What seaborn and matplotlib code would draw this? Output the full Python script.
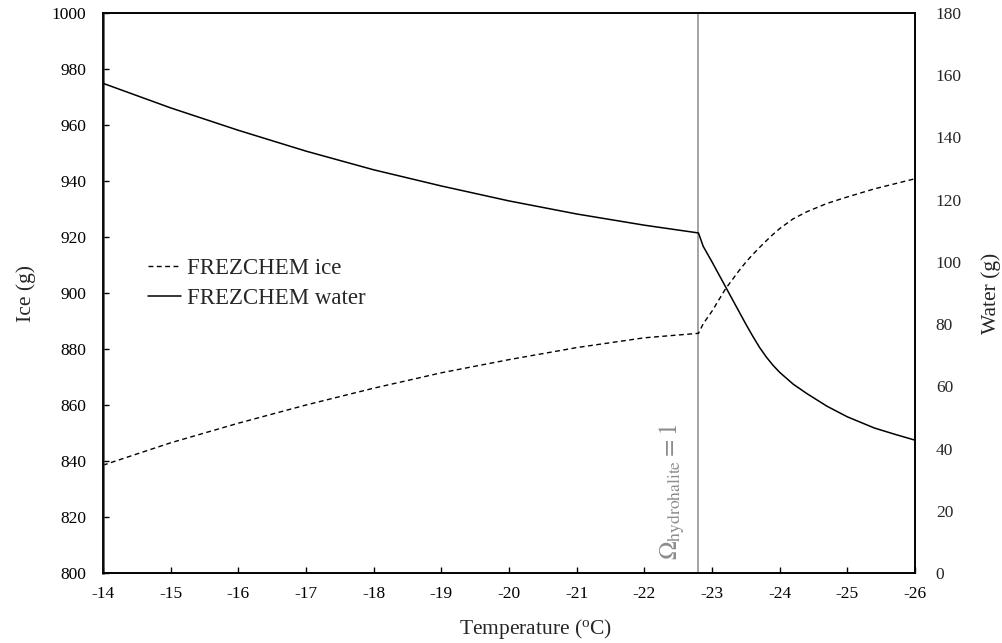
import matplotlib
matplotlib.use("Agg")
import matplotlib.pyplot as plt
import seaborn as sns
import pandas as pd

# Data
temp = [-14.0, -15.0, -16.0, -17.0, -18.0, -19.0, -20.0, -21.0, -22.0, -22.8,
        -22.87, -23.0, -23.2, -23.4, -23.5, -23.6, -23.7, -23.8, -23.9, -24.0,
        -24.2, -24.4, -24.7, -25.0, -25.4, -25.7, -26.0]
ice = [838.5, 846.5, 853.5, 860.0, 866.0, 871.5, 876.2, 880.5, 884.0, 885.6,
       889.0, 893.5, 901.5, 908.0, 911.0, 913.7, 916.2, 918.6, 920.9, 923.0,
       926.5, 929.0, 932.0, 934.3, 937.2, 939.0, 940.8]
water = [157.4, 149.5, 142.3, 135.6, 129.6, 124.4, 119.6, 115.4, 111.8, 109.3,
         105.0, 100.0, 92.0, 84.0, 80.0, 76.2, 72.6, 69.5, 66.8, 64.5,
         60.7, 57.7, 53.6, 50.2, 46.6, 44.6, 42.7]
hydrohalite_T = -22.8
x_ticks = [-14, -15, -16, -17, -18, -19, -20, -21, -22, -23, -24, -25, -26]
ice_ticks = [800, 820, 840, 860, 880, 900, 920, 940, 960, 980, 1000]
water_ticks = [0, 20, 40, 60, 80, 100, 120, 140, 160, 180]

df = pd.DataFrame({"T": temp, "ice": ice, "water": water})

sns.set_style("ticks")
plt.rcParams["font.family"] = ["Liberation Serif", "DejaVu Serif"]
plt.rcParams["mathtext.fontset"] = "stix"

fig = plt.figure(figsize=(10.03, 6.43), dpi=100)
ax = fig.add_axes([103 / 1003, 1 - 573 / 643, (915 - 103) / 1003, (573 - 13) / 643])
ax2 = ax.twinx()

sns.lineplot(data=df, x="T", y="ice", ax=ax, color="black", lw=1.0,
             linestyle=(0, (3.5, 2.5)), label="FREZCHEM ice", legend=False, sort=False)
sns.lineplot(data=df, x="T", y="water", ax=ax2, color="black", lw=1.1,
             label="FREZCHEM water", legend=False, sort=False)

ax.axvline(hydrohalite_T, color="#8c8c8c", lw=1.1, zorder=1)
ax.text(-22.42, 804.5, r"$\Omega_{\mathrm{hydrohalite}} = 1$",
        rotation=90, color="#8c8c8c", fontsize=18, ha="center", va="bottom")

ax.set_xlim(-14, -26)
ax.set_ylim(800, 1000)
ax2.set_ylim(0, 180)
ax.set_xticks(x_ticks)
ax.set_xticklabels([str(t) for t in x_ticks])
ax.set_yticks(ice_ticks)
ax2.set_yticks(water_ticks)

ax.tick_params(axis="both", direction="in", length=4, width=1, labelsize=12.5,
               colors="black")
ax.tick_params(axis="x", pad=9)
ax.tick_params(axis="y", pad=12)
ax2.tick_params(axis="y", direction="in", length=0, labelsize=12.5, pad=15)

ax.set_xlabel("Temperature ($\\mathregular{^{o}}$C)", fontsize=15.5)
ax.xaxis.set_label_coords(0.533, -0.078)
ax.set_ylabel("Ice (g)", fontsize=15.5, labelpad=11)
ax2.set_ylabel("Water (g)", fontsize=15.5, labelpad=14)

for a in (ax, ax2):
    for s in a.spines.values():
        s.set_visible(True)
        s.set_color("black")
        s.set_linewidth(1.2)
ax.spines["left"].set_linewidth(1.8)
ax.spines["left"].set_color("#404040")

h1, l1 = ax.get_legend_handles_labels()
h2, l2 = ax2.get_legend_handles_labels()
leg = ax.legend(h1 + h2, l1 + l2, loc="upper left", bbox_to_anchor=(0.044, 0.579),
                frameon=False, fontsize=16.5, handlelength=1.45, handletextpad=0.25,
                labelspacing=0.38, borderaxespad=0)

fig.savefig("out.png", dpi=100)
